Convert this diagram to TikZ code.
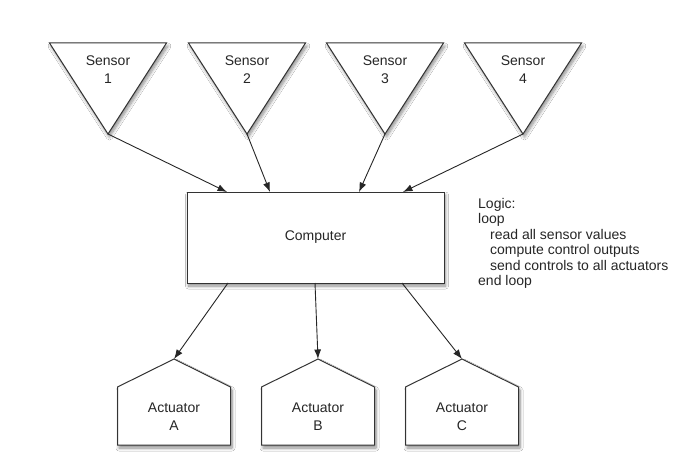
\documentclass[tikz,border=0pt]{standalone}
\usepackage{fontspec}
\setmainfont{Liberation Sans}
\usetikzlibrary{arrows.meta,shadows.blur}
\begin{document}
\begin{tikzpicture}[x=1pt,y=-1pt,
  shp/.style={draw=black!80, line width=1pt, fill=white, line join=miter,
    blur shadow={shadow xshift=1.5pt, shadow yshift=-3pt, shadow blur steps=8, shadow opacity=45, shadow blur radius=3pt}},
  lbl/.style={font=\fontsize{14}{18}\selectfont, align=center, text=black!85, inner sep=0pt},
  arr/.style={draw=black!85, line width=0.9pt, -{Latex[length=9.5pt,width=7pt]}},
]
\useasboundingbox[fill=white] (0,0) rectangle (699,468);
% sensors
\foreach \x/\n in {108/1,247/2,385/3,523/4} {
  \path[shp] (\x-58.5,43) -- (\x+58.5,43) -- (\x,134) -- cycle;
  \node[lbl] (s\n) at (\x,70) {Sensor\\\n};
  \coordinate (t\n) at (\x,134);
}
% computer
\node[shp, lbl, minimum width=257pt, minimum height=91pt] (comp) at (315.5,237.5) {Computer};
\coordinate (in1) at (227,192);
\coordinate (in2) at (270,192);
\coordinate (in3) at (359,192);
\coordinate (in4) at (403,192);
\coordinate (o1) at (228,283);
\coordinate (o2) at (315,283);
\coordinate (o3) at (402,283);
% actuators
\foreach \x/\n in {174/A,318/B,462/C} {
  \path[shp] (\x,359) -- (\x+56.5,387) -- (\x+56.5,445) -- (\x-56.5,445) -- (\x-56.5,387) -- cycle;
  \node[lbl] (a\n) at (\x,417) {Actuator\\\n};
  \coordinate (p\n) at (\x,359);
}
% connectors
\draw[arr] (t1) -- (in1);
\draw[arr] (t2) -- (in2);
\draw[arr] (t3) -- (in3);
\draw[arr] (t4) -- (in4);
\draw[arr] (o1) -- (pA);
\draw[arr] (o2) -- (pB);
\draw[arr] (o3) -- (pC);
% logic
\node[anchor=north west, font=\fontsize{14}{15.5}\selectfont, align=left, inner sep=0pt, text=black!85] (logic) at (478,198)
  {Logic:\\loop\\\hspace*{12pt}read all sensor values\\\hspace*{12pt}compute control outputs\\\hspace*{12pt}send controls to all actuators\\end loop};
\end{tikzpicture}
\end{document}
